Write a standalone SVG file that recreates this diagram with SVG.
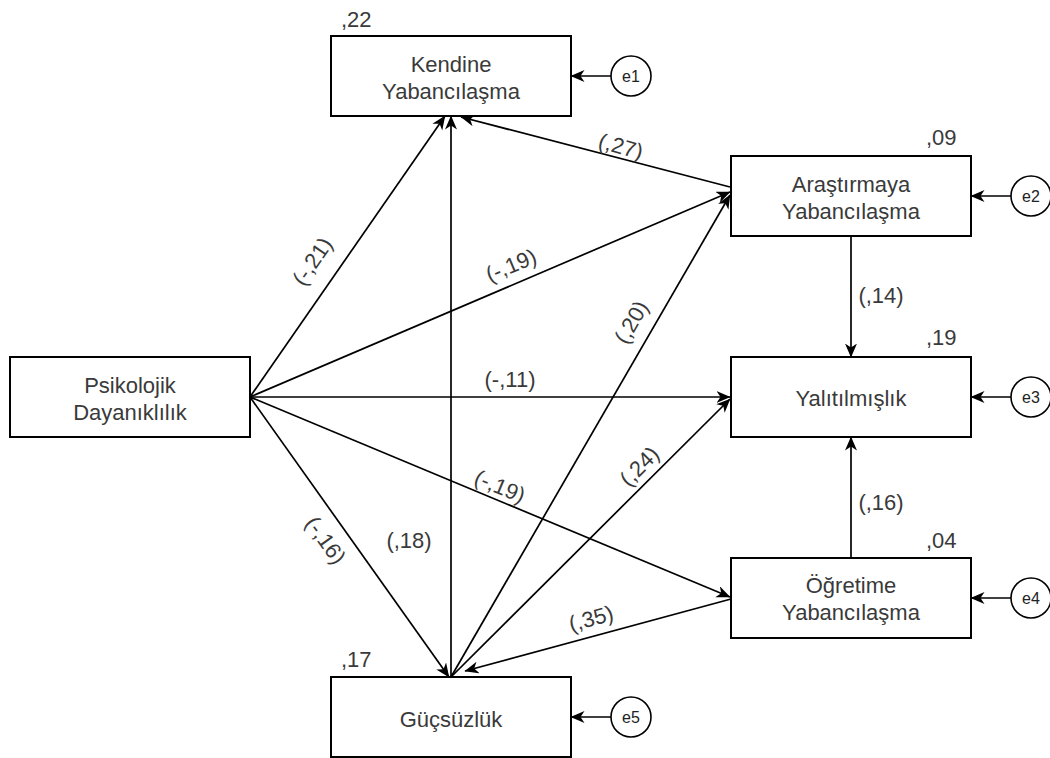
<svg xmlns="http://www.w3.org/2000/svg" width="1050" height="758" viewBox="0 0 1050 758">
<style>
.box{fill:#fff;stroke:#000;stroke-width:2}
.err{fill:#fff;stroke:#000;stroke-width:1.6}
.t{font-family:"Liberation Sans",Arial,sans-serif;font-size:22px;fill:#3a3a3a}
.tc{text-anchor:middle}
.et{font-family:"Liberation Sans",Arial,sans-serif;font-size:16px;fill:#222;text-anchor:middle}
.ln{fill:none;stroke:#000;stroke-width:1.7;marker-end:url(#arr)}
</style>
<defs>
<marker id="arr" markerUnits="userSpaceOnUse" markerWidth="16" markerHeight="14" refX="13.5" refY="6" orient="auto">
<path d="M0,0 L14,6 L0,12 L4,6 Z" fill="#000"/>
</marker>
</defs>
<rect width="1050" height="758" fill="#fff"/>
<g id="connectors">
<line class="ln" x1="250" y1="397" x2="445" y2="116"/>
<line class="ln" x1="451" y1="677" x2="451" y2="116"/>
<line class="ln" x1="730" y1="187" x2="461" y2="117"/>
<line class="ln" x1="250" y1="397" x2="730" y2="192"/>
<line class="ln" x1="451" y1="677" x2="730" y2="195"/>
<line class="ln" x1="250" y1="397" x2="730" y2="397"/>
<line class="ln" x1="451" y1="677" x2="730" y2="399"/>
<line class="ln" x1="250" y1="397" x2="730" y2="597"/>
<line class="ln" x1="250" y1="397" x2="449" y2="677"/>
<line class="ln" x1="731" y1="599" x2="465" y2="671"/>
<line class="ln" x1="851" y1="236" x2="851" y2="357"/>
<line class="ln" x1="851" y1="558" x2="851" y2="437"/>
<line class="ln" x1="611" y1="76" x2="571" y2="76"/>
<line class="ln" x1="1011" y1="196" x2="971" y2="196"/>
<line class="ln" x1="1011" y1="397" x2="971" y2="397"/>
<line class="ln" x1="1011" y1="598" x2="971" y2="598"/>
<line class="ln" x1="611" y1="717" x2="571" y2="717"/>
<g class="t tc">
<text transform="translate(621,146) rotate(15.5)" x="0" y="8">(,27)</text>
<text transform="translate(312,261) rotate(-55.5)" x="0" y="8">(-,21)</text>
<text transform="translate(511,265) rotate(-22.7)" x="0" y="8">(-,19)</text>
<text x="510" y="387">(-,11)</text>
<text transform="translate(631,322) rotate(-60)" x="0" y="8">(,20)</text>
<text transform="translate(639,466) rotate(-45)" x="0" y="8">(,24)</text>
<text transform="translate(500,486) rotate(22.6)" x="0" y="8">(-,19)</text>
<text transform="translate(326,540) rotate(54.6)" x="0" y="8">(-,16)</text>
<text x="409" y="548">(,18)</text>
<text transform="translate(591,618) rotate(-15.2)" x="0" y="8">(,35)</text>
<text x="881" y="303">(,14)</text>
<text x="881" y="510">(,16)</text>
</g>
</g>
<g id="n-kendine">
<rect class="box" x="331" y="36" width="240" height="80"/>
<text class="t tc" x="451" y="72">Kendine</text>
<text class="t tc" x="451" y="99">Yabancılaşma</text>
<text class="t" x="341" y="27">,22</text>
</g>
<g id="n-arastirmaya">
<rect class="box" x="731" y="156" width="240" height="80"/>
<text class="t tc" x="851" y="192">Araştırmaya</text>
<text class="t tc" x="851" y="219">Yabancılaşma</text>
<text class="t" x="926" y="145">,09</text>
</g>
<g id="n-psikolojik">
<rect class="box" x="10" y="357" width="240" height="80"/>
<text class="t tc" x="130" y="393">Psikolojik</text>
<text class="t tc" x="130" y="420">Dayanıklılık</text>
</g>
<g id="n-yalitilmislik">
<rect class="box" x="731" y="357" width="240" height="80"/>
<text class="t tc" x="851" y="406">Yalıtılmışlık</text>
<text class="t" x="926" y="345">,19</text>
</g>
<g id="n-ogretime">
<rect class="box" x="731" y="558" width="240" height="80"/>
<text class="t tc" x="851" y="593">Öğretime</text>
<text class="t tc" x="851" y="620">Yabancılaşma</text>
<text class="t" x="926" y="548">,04</text>
</g>
<g id="n-gucsuzluk">
<rect class="box" x="331" y="677" width="240" height="80"/>
<text class="t tc" x="451" y="727">Güçsüzlük</text>
<text class="t" x="341" y="667">,17</text>
</g>
<g id="e1"><circle class="err" cx="631" cy="76" r="20"/><text class="et" x="631" y="82">e1</text></g>
<g id="e2"><circle class="err" cx="1031" cy="196" r="20"/><text class="et" x="1031" y="202">e2</text></g>
<g id="e3"><circle class="err" cx="1031" cy="397" r="20"/><text class="et" x="1031" y="403">e3</text></g>
<g id="e4"><circle class="err" cx="1031" cy="598" r="20"/><text class="et" x="1031" y="604">e4</text></g>
<g id="e5"><circle class="err" cx="631" cy="717" r="20"/><text class="et" x="631" y="723">e5</text></g>
</svg>
